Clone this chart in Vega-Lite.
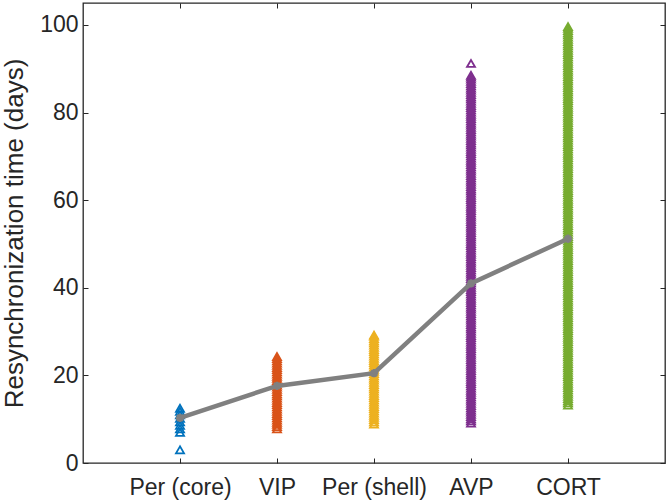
{
  "$schema": "https://vega.github.io/schema/vega-lite/v6.json",
  "width": 582,
  "height": 460,
  "autosize": {"type": "none"},
  "padding": {"left": 83, "top": 3, "right": 3, "bottom": 41},
  "background": "white",
  "config": {
    "view": {"stroke": "#262626", "strokeWidth": 1.3},
    "axis": {
      "domain": false,
      "grid": false,
      "labelFont": "Liberation Sans",
      "labelFontSize": 23,
      "labelColor": "#262626",
      "tickColor": "#262626",
      "tickSize": -5,
      "tickWidth": 1,
      "titleFont": "Liberation Sans",
      "titleFontWeight": "normal",
      "titleColor": "#262626"
    }
  },
  "datasets": {
    "pts": [
      {"g":"Per (core)","v":3.0},{"g":"Per (core)","v":7.0},{"g":"Per (core)","v":7.8},{"g":"Per (core)","v":8.6},{"g":"Per (core)","v":9.4},{"g":"Per (core)","v":10.2},{"g":"Per (core)","v":11.0},{"g":"Per (core)","v":11.8},{"g":"Per (core)","v":12.5},
      {"g":"VIP","v":7.8},{"g":"VIP","v":8.3},{"g":"VIP","v":8.8},{"g":"VIP","v":9.3},{"g":"VIP","v":9.8},{"g":"VIP","v":10.3},{"g":"VIP","v":10.8},{"g":"VIP","v":11.3},{"g":"VIP","v":11.8},{"g":"VIP","v":12.3},{"g":"VIP","v":12.8},{"g":"VIP","v":13.3},{"g":"VIP","v":13.8},{"g":"VIP","v":14.3},{"g":"VIP","v":14.8},{"g":"VIP","v":15.3},{"g":"VIP","v":15.8},{"g":"VIP","v":16.3},{"g":"VIP","v":16.8},{"g":"VIP","v":17.3},{"g":"VIP","v":17.8},{"g":"VIP","v":18.3},{"g":"VIP","v":18.8},{"g":"VIP","v":19.3},{"g":"VIP","v":19.8},{"g":"VIP","v":20.3},{"g":"VIP","v":20.8},{"g":"VIP","v":21.3},{"g":"VIP","v":21.8},{"g":"VIP","v":22.3},{"g":"VIP","v":22.8},{"g":"VIP","v":23.3},{"g":"VIP","v":23.8},{"g":"VIP","v":24.3},
      {"g":"Per (shell)","v":8.9},{"g":"Per (shell)","v":9.4},{"g":"Per (shell)","v":9.9},{"g":"Per (shell)","v":10.4},{"g":"Per (shell)","v":10.9},{"g":"Per (shell)","v":11.4},{"g":"Per (shell)","v":11.9},{"g":"Per (shell)","v":12.4},{"g":"Per (shell)","v":12.9},{"g":"Per (shell)","v":13.4},{"g":"Per (shell)","v":13.9},{"g":"Per (shell)","v":14.4},{"g":"Per (shell)","v":14.9},{"g":"Per (shell)","v":15.4},{"g":"Per (shell)","v":15.9},{"g":"Per (shell)","v":16.4},{"g":"Per (shell)","v":16.9},{"g":"Per (shell)","v":17.4},{"g":"Per (shell)","v":17.9},{"g":"Per (shell)","v":18.4},{"g":"Per (shell)","v":18.9},{"g":"Per (shell)","v":19.4},{"g":"Per (shell)","v":19.9},{"g":"Per (shell)","v":20.4},{"g":"Per (shell)","v":20.9},{"g":"Per (shell)","v":21.4},{"g":"Per (shell)","v":21.9},{"g":"Per (shell)","v":22.4},{"g":"Per (shell)","v":22.9},{"g":"Per (shell)","v":23.4},{"g":"Per (shell)","v":23.9},{"g":"Per (shell)","v":24.4},{"g":"Per (shell)","v":24.9},{"g":"Per (shell)","v":25.4},{"g":"Per (shell)","v":25.9},{"g":"Per (shell)","v":26.4},{"g":"Per (shell)","v":26.9},{"g":"Per (shell)","v":27.4},{"g":"Per (shell)","v":27.9},{"g":"Per (shell)","v":28.4},{"g":"Per (shell)","v":28.9},{"g":"Per (shell)","v":29.2},
      {"g":"AVP","v":9.1},{"g":"AVP","v":9.6},{"g":"AVP","v":10.1},{"g":"AVP","v":10.6},{"g":"AVP","v":11.1},{"g":"AVP","v":11.6},{"g":"AVP","v":12.1},{"g":"AVP","v":12.6},{"g":"AVP","v":13.1},{"g":"AVP","v":13.6},
      {"g":"AVP","v":14.1},{"g":"AVP","v":14.6},{"g":"AVP","v":15.1},{"g":"AVP","v":15.6},{"g":"AVP","v":16.1},{"g":"AVP","v":16.6},{"g":"AVP","v":17.1},{"g":"AVP","v":17.6},{"g":"AVP","v":18.1},{"g":"AVP","v":18.6},
      {"g":"AVP","v":19.1},{"g":"AVP","v":19.6},{"g":"AVP","v":20.1},{"g":"AVP","v":20.6},{"g":"AVP","v":21.1},{"g":"AVP","v":21.6},{"g":"AVP","v":22.1},{"g":"AVP","v":22.6},{"g":"AVP","v":23.1},{"g":"AVP","v":23.6},
      {"g":"AVP","v":24.1},{"g":"AVP","v":24.6},{"g":"AVP","v":25.1},{"g":"AVP","v":25.6},{"g":"AVP","v":26.1},{"g":"AVP","v":26.6},{"g":"AVP","v":27.1},{"g":"AVP","v":27.6},{"g":"AVP","v":28.1},{"g":"AVP","v":28.6},
      {"g":"AVP","v":29.1},{"g":"AVP","v":29.6},{"g":"AVP","v":30.1},{"g":"AVP","v":30.6},{"g":"AVP","v":31.1},{"g":"AVP","v":31.6},{"g":"AVP","v":32.1},{"g":"AVP","v":32.6},{"g":"AVP","v":33.1},{"g":"AVP","v":33.6},
      {"g":"AVP","v":34.1},{"g":"AVP","v":34.6},{"g":"AVP","v":35.1},{"g":"AVP","v":35.6},{"g":"AVP","v":36.1},{"g":"AVP","v":36.6},{"g":"AVP","v":37.1},{"g":"AVP","v":37.6},{"g":"AVP","v":38.1},{"g":"AVP","v":38.6},
      {"g":"AVP","v":39.1},{"g":"AVP","v":39.6},{"g":"AVP","v":40.1},{"g":"AVP","v":40.6},{"g":"AVP","v":41.1},{"g":"AVP","v":41.6},{"g":"AVP","v":42.1},{"g":"AVP","v":42.6},{"g":"AVP","v":43.1},{"g":"AVP","v":43.6},
      {"g":"AVP","v":44.1},{"g":"AVP","v":44.6},{"g":"AVP","v":45.1},{"g":"AVP","v":45.6},{"g":"AVP","v":46.1},{"g":"AVP","v":46.6},{"g":"AVP","v":47.1},{"g":"AVP","v":47.6},{"g":"AVP","v":48.1},{"g":"AVP","v":48.6},
      {"g":"AVP","v":49.1},{"g":"AVP","v":49.6},{"g":"AVP","v":50.1},{"g":"AVP","v":50.6},{"g":"AVP","v":51.1},{"g":"AVP","v":51.6},{"g":"AVP","v":52.1},{"g":"AVP","v":52.6},{"g":"AVP","v":53.1},{"g":"AVP","v":53.6},
      {"g":"AVP","v":54.1},{"g":"AVP","v":54.6},{"g":"AVP","v":55.1},{"g":"AVP","v":55.6},{"g":"AVP","v":56.1},{"g":"AVP","v":56.6},{"g":"AVP","v":57.1},{"g":"AVP","v":57.6},{"g":"AVP","v":58.1},{"g":"AVP","v":58.6},
      {"g":"AVP","v":59.1},{"g":"AVP","v":59.6},{"g":"AVP","v":60.1},{"g":"AVP","v":60.6},{"g":"AVP","v":61.1},{"g":"AVP","v":61.6},{"g":"AVP","v":62.1},{"g":"AVP","v":62.6},{"g":"AVP","v":63.1},{"g":"AVP","v":63.6},
      {"g":"AVP","v":64.1},{"g":"AVP","v":64.6},{"g":"AVP","v":65.1},{"g":"AVP","v":65.6},{"g":"AVP","v":66.1},{"g":"AVP","v":66.6},{"g":"AVP","v":67.1},{"g":"AVP","v":67.6},{"g":"AVP","v":68.1},{"g":"AVP","v":68.6},
      {"g":"AVP","v":69.1},{"g":"AVP","v":69.6},{"g":"AVP","v":70.1},{"g":"AVP","v":70.6},{"g":"AVP","v":71.1},{"g":"AVP","v":71.6},{"g":"AVP","v":72.1},{"g":"AVP","v":72.6},{"g":"AVP","v":73.1},{"g":"AVP","v":73.6},
      {"g":"AVP","v":74.1},{"g":"AVP","v":74.6},{"g":"AVP","v":75.1},{"g":"AVP","v":75.6},{"g":"AVP","v":76.1},{"g":"AVP","v":76.6},{"g":"AVP","v":77.1},{"g":"AVP","v":77.6},{"g":"AVP","v":78.1},{"g":"AVP","v":78.6},
      {"g":"AVP","v":79.1},{"g":"AVP","v":79.6},{"g":"AVP","v":80.1},{"g":"AVP","v":80.6},{"g":"AVP","v":81.1},{"g":"AVP","v":81.6},{"g":"AVP","v":82.1},{"g":"AVP","v":82.6},{"g":"AVP","v":83.1},{"g":"AVP","v":83.6},
      {"g":"AVP","v":84.1},{"g":"AVP","v":84.6},{"g":"AVP","v":85.1},{"g":"AVP","v":85.6},{"g":"AVP","v":86.1},{"g":"AVP","v":86.6},{"g":"AVP","v":87.1},{"g":"AVP","v":87.6},{"g":"AVP","v":88.1},{"g":"AVP","v":88.5},{"g":"AVP","v":91.2},
      {"g":"CORT","v":13.2},{"g":"CORT","v":13.7},{"g":"CORT","v":14.2},{"g":"CORT","v":14.7},{"g":"CORT","v":15.2},{"g":"CORT","v":15.7},{"g":"CORT","v":16.2},{"g":"CORT","v":16.7},{"g":"CORT","v":17.2},{"g":"CORT","v":17.7},
      {"g":"CORT","v":18.2},{"g":"CORT","v":18.7},{"g":"CORT","v":19.2},{"g":"CORT","v":19.7},{"g":"CORT","v":20.2},{"g":"CORT","v":20.7},{"g":"CORT","v":21.2},{"g":"CORT","v":21.7},{"g":"CORT","v":22.2},{"g":"CORT","v":22.7},
      {"g":"CORT","v":23.2},{"g":"CORT","v":23.7},{"g":"CORT","v":24.2},{"g":"CORT","v":24.7},{"g":"CORT","v":25.2},{"g":"CORT","v":25.7},{"g":"CORT","v":26.2},{"g":"CORT","v":26.7},{"g":"CORT","v":27.2},{"g":"CORT","v":27.7},
      {"g":"CORT","v":28.2},{"g":"CORT","v":28.7},{"g":"CORT","v":29.2},{"g":"CORT","v":29.7},{"g":"CORT","v":30.2},{"g":"CORT","v":30.7},{"g":"CORT","v":31.2},{"g":"CORT","v":31.7},{"g":"CORT","v":32.2},{"g":"CORT","v":32.7},
      {"g":"CORT","v":33.2},{"g":"CORT","v":33.7},{"g":"CORT","v":34.2},{"g":"CORT","v":34.7},{"g":"CORT","v":35.2},{"g":"CORT","v":35.7},{"g":"CORT","v":36.2},{"g":"CORT","v":36.7},{"g":"CORT","v":37.2},{"g":"CORT","v":37.7},
      {"g":"CORT","v":38.2},{"g":"CORT","v":38.7},{"g":"CORT","v":39.2},{"g":"CORT","v":39.7},{"g":"CORT","v":40.2},{"g":"CORT","v":40.7},{"g":"CORT","v":41.2},{"g":"CORT","v":41.7},{"g":"CORT","v":42.2},{"g":"CORT","v":42.7},
      {"g":"CORT","v":43.2},{"g":"CORT","v":43.7},{"g":"CORT","v":44.2},{"g":"CORT","v":44.7},{"g":"CORT","v":45.2},{"g":"CORT","v":45.7},{"g":"CORT","v":46.2},{"g":"CORT","v":46.7},{"g":"CORT","v":47.2},{"g":"CORT","v":47.7},
      {"g":"CORT","v":48.2},{"g":"CORT","v":48.7},{"g":"CORT","v":49.2},{"g":"CORT","v":49.7},{"g":"CORT","v":50.2},{"g":"CORT","v":50.7},{"g":"CORT","v":51.2},{"g":"CORT","v":51.7},{"g":"CORT","v":52.2},{"g":"CORT","v":52.7},
      {"g":"CORT","v":53.2},{"g":"CORT","v":53.7},{"g":"CORT","v":54.2},{"g":"CORT","v":54.7},{"g":"CORT","v":55.2},{"g":"CORT","v":55.7},{"g":"CORT","v":56.2},{"g":"CORT","v":56.7},{"g":"CORT","v":57.2},{"g":"CORT","v":57.7},
      {"g":"CORT","v":58.2},{"g":"CORT","v":58.7},{"g":"CORT","v":59.2},{"g":"CORT","v":59.7},{"g":"CORT","v":60.2},{"g":"CORT","v":60.7},{"g":"CORT","v":61.2},{"g":"CORT","v":61.7},{"g":"CORT","v":62.2},{"g":"CORT","v":62.7},
      {"g":"CORT","v":63.2},{"g":"CORT","v":63.7},{"g":"CORT","v":64.2},{"g":"CORT","v":64.7},{"g":"CORT","v":65.2},{"g":"CORT","v":65.7},{"g":"CORT","v":66.2},{"g":"CORT","v":66.7},{"g":"CORT","v":67.2},{"g":"CORT","v":67.7},
      {"g":"CORT","v":68.2},{"g":"CORT","v":68.7},{"g":"CORT","v":69.2},{"g":"CORT","v":69.7},{"g":"CORT","v":70.2},{"g":"CORT","v":70.7},{"g":"CORT","v":71.2},{"g":"CORT","v":71.7},{"g":"CORT","v":72.2},{"g":"CORT","v":72.7},
      {"g":"CORT","v":73.2},{"g":"CORT","v":73.7},{"g":"CORT","v":74.2},{"g":"CORT","v":74.7},{"g":"CORT","v":75.2},{"g":"CORT","v":75.7},{"g":"CORT","v":76.2},{"g":"CORT","v":76.7},{"g":"CORT","v":77.2},{"g":"CORT","v":77.7},
      {"g":"CORT","v":78.2},{"g":"CORT","v":78.7},{"g":"CORT","v":79.2},{"g":"CORT","v":79.7},{"g":"CORT","v":80.2},{"g":"CORT","v":80.7},{"g":"CORT","v":81.2},{"g":"CORT","v":81.7},{"g":"CORT","v":82.2},{"g":"CORT","v":82.7},
      {"g":"CORT","v":83.2},{"g":"CORT","v":83.7},{"g":"CORT","v":84.2},{"g":"CORT","v":84.7},{"g":"CORT","v":85.2},{"g":"CORT","v":85.7},{"g":"CORT","v":86.2},{"g":"CORT","v":86.7},{"g":"CORT","v":87.2},{"g":"CORT","v":87.7},
      {"g":"CORT","v":88.2},{"g":"CORT","v":88.7},{"g":"CORT","v":89.2},{"g":"CORT","v":89.7},{"g":"CORT","v":90.2},{"g":"CORT","v":90.7},{"g":"CORT","v":91.2},{"g":"CORT","v":91.7},{"g":"CORT","v":92.2},{"g":"CORT","v":92.7},
      {"g":"CORT","v":93.2},{"g":"CORT","v":93.7},{"g":"CORT","v":94.2},{"g":"CORT","v":94.7},{"g":"CORT","v":95.2},{"g":"CORT","v":95.7},{"g":"CORT","v":96.2},{"g":"CORT","v":96.7},{"g":"CORT","v":97.2},{"g":"CORT","v":97.7},
      {"g":"CORT","v":98.2},{"g":"CORT","v":98.7},{"g":"CORT","v":99.2},{"g":"CORT","v":99.6}
    ],
    "means": [
      {"g": "Per (core)", "v": 10.3},
      {"g": "VIP", "v": 17.6},
      {"g": "Per (shell)", "v": 20.5},
      {"g": "AVP", "v": 41.0},
      {"g": "CORT", "v": 51.2}
    ]
  },
  "layer": [
    {
      "data": {"name": "pts"},
      "mark": {"type": "point", "shape": "triangle-up", "filled": false, "strokeWidth": 1.8, "size": 65, "opacity": 1},
      "encoding": {
        "x": {
          "field": "g", "type": "nominal", "sort": null,
          "scale": {"type": "point", "padding": 1, "domain": ["Per (core)", "VIP", "Per (shell)", "AVP", "CORT"]},
          "axis": {"orient": "bottom", "labelAngle": 0, "labelPadding": 18, "title": null}
        },
        "y": {
          "field": "v", "type": "quantitative",
          "scale": {"domain": [0, 105], "nice": false, "zero": true},
          "axis": {"orient": "left", "values": [0, 20, 40, 60, 80, 100], "labelPadding": 10,
                   "title": "Resynchronization time (days)", "titleFontSize": 26, "titleX": -56, "titleBaseline": "bottom"}
        },
        "color": {
          "field": "g", "type": "nominal", "legend": null,
          "scale": {"domain": ["Per (core)", "VIP", "Per (shell)", "AVP", "CORT"],
                    "range": ["#0072BD", "#D95319", "#EDB120", "#7E2F8E", "#77AC30"]}
        }
      }
    },
    {
      "data": {"name": "means"},
      "mark": {"type": "line", "color": "#808080", "strokeWidth": 4.5},
      "encoding": {
        "x": {"field": "g", "type": "nominal", "sort": null,
              "axis": {"orient": "top", "labels": false, "title": null}},
        "y": {"field": "v", "type": "quantitative",
              "axis": {"orient": "right", "labels": false, "title": null, "values": [0, 20, 40, 60, 80, 100]}}
      }
    },
    {
      "data": {"name": "means"},
      "mark": {"type": "point", "shape": "M-1,0L1,0M0,-1L0,1M-0.7,-0.7L0.7,0.7M-0.7,0.7L0.7,-0.7", "filled": false, "color": "#808080", "strokeWidth": 2.5, "size": 70, "opacity": 1},
      "encoding": {
        "x": {"field": "g", "type": "nominal", "sort": null, "axis": null},
        "y": {"field": "v", "type": "quantitative", "axis": null}
      }
    }
  ],
  "resolve": {"axis": {"x": "independent", "y": "independent"}}
}
